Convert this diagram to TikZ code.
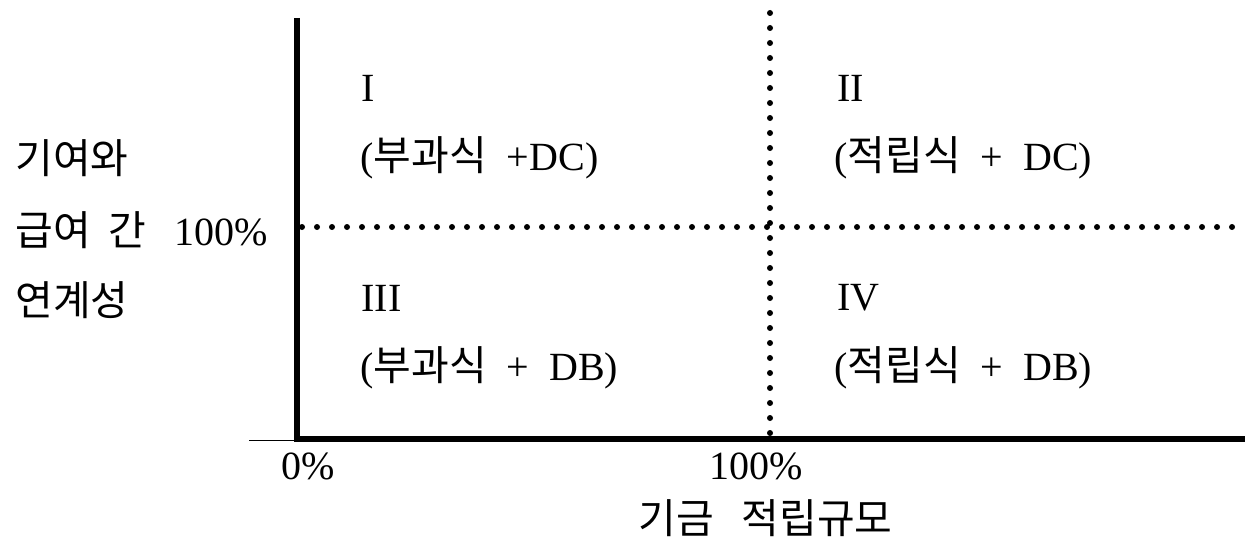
\documentclass[tikz,border=0pt]{standalone}
\usepackage{fontspec}
\setmainfont{Liberation Serif}
\newfontfamily\kr{Noto Sans CJK KR}
\newcommand{\K}[1]{{\kr\fontsize{20.5}{24}\selectfont #1}}
\newcommand{\gp}{\hspace{10pt}}
\begin{document}
\begin{tikzpicture}[x=0.5pt,y=-0.5pt,
  lbl/.style={anchor=west,inner sep=0pt,font=\fontsize{20}{24}\selectfont},
  kt/.style={font=\kr\fontsize{20.5}{24}\selectfont},
  axis/.style={line width=3pt},
  dots/.style={line width=3pt,line cap=round,dash pattern=on 0pt off 7.5pt}]
\useasboundingbox (0,0) rectangle (1245,540);
% axes
\coordinate (o) at (297,439);
\coordinate (ytop) at (297,18);
\coordinate (xend) at (1245,439);
\coordinate (tl) at (249,440);
\draw[line width=0.5pt] (tl) -- (297,440);
\draw[axis] (ytop) -- (o) -- (xend);
% dotted dividers
\coordinate (vt) at (770,13);
\coordinate (vb) at (770,440);
\coordinate (hl) at (302,227);
\coordinate (hr) at (1245,227);
\draw[dots] (vt) -- (vb);
\draw[dots] (hl) -- (hr);
% quadrants
\node[lbl] (q1) at (361,88) {I};
\node[lbl] (q1t) at (360,158) {(\K{부과식}\gp+DC)};
\node[lbl] (q2) at (837,88) {II};
\node[lbl] (q2t) at (834,158) {(\K{적립식}\gp+\gp DC)};
\node[lbl] (q3) at (361,298) {III};
\node[lbl] (q3t) at (360,368) {(\K{부과식}\gp+\gp DB)};
\node[lbl] (q4) at (837,298) {IV};
\node[lbl] (q4t) at (834,368) {(\K{적립식}\gp+\gp DB)};
% y label
\node[lbl,kt] (y1) at (15,158) {기여와};
\node[lbl] (y2) at (15,230) {\K{급여\hspace{9pt}간}\hspace{14pt}100\%};
\node[lbl,kt] (y3) at (15,300) {연계성};
% x labels
\node[lbl] (x0) at (281,466) {0\%};
\node[lbl] (x100) at (709,466) {100\%};
\node[lbl,kt] (xl) at (638,518) {기금\hspace{14pt}적립규모};
\end{tikzpicture}
\end{document}
